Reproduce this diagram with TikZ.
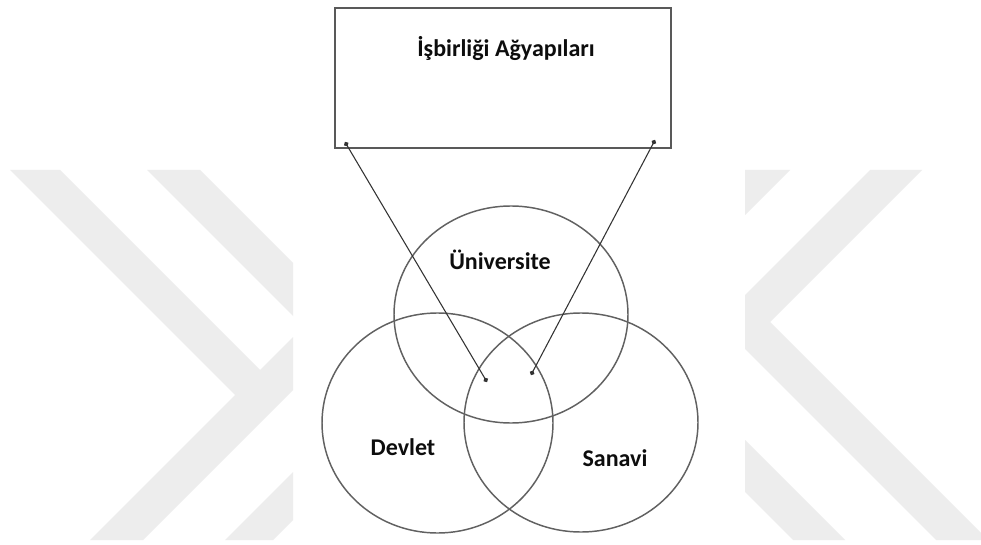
\documentclass[tikz,border=0pt]{standalone}
\usepackage{fontspec}
\setmainfont{Carlito}
\usetikzlibrary{shapes.geometric,arrows.meta}

\tikzset{
  wm/.style={fill=black!7, draw=none},
  venn/.style={ellipse, draw=black!62, line width=1.1pt, inner sep=0pt, outer sep=0pt},
  framebox/.style={rectangle, draw=black!65, line width=1pt, inner sep=0pt, outer sep=0pt},
  label/.style={anchor=base, inner sep=0pt, text=black!95,
                font=\bfseries\fontsize{18}{21}\selectfont},
  link/.style={draw=black!80, line width=0.8pt,
               {Circle[length=3.6pt]}-{Circle[length=3.6pt]}},
}

\begin{document}
\begin{tikzpicture}[x=0.75pt, y=-0.75pt]
  % canvas
  \fill[white] (0,0) rectangle (981,545);
  \useasboundingbox (0,0) rectangle (981,545);

  % background emblem bands, left side
  \fill[wm] (10,170) -- (60,170) -- (275,385) -- (250,410) -- cycle;
  \fill[wm] (90,540) -- (143,540) -- (293,390) -- (293,337) -- cycle;
  \fill[wm] (147,170) -- (200,170) -- (293,263) -- (293,316) -- cycle;
  \fill[wm] (225,540) -- (273,540) -- (293,520) -- (293,472) -- cycle;

  % background emblem bands, right side
  \fill[wm] (745,170) -- (790,170) -- (745,215) -- cycle;
  \fill[wm] (870,170) -- (922,170) -- (770,322) -- (981,533) -- (981,540)
            -- (936,540) -- (745,349) -- (745,295) -- cycle;
  \fill[wm] (745,440) -- (745,492) -- (793,540) -- (845,540) -- cycle;

  % network box
  \node[framebox, minimum width=252pt, minimum height=105pt] (box) at (503,78) {};
  \node[label] (title) at (506,57) {İşbirliği Ağyapıları};

  % three overlapping sets
  \node[venn, minimum width=175.5pt, minimum height=162.75pt] (uni) at (511,314.5) {};
  \node[venn, minimum width=173.25pt, minimum height=165pt] (dev) at (437.5,423) {};
  \node[venn, minimum width=175.5pt, minimum height=164.25pt] (san) at (581,422.5) {};

  \node[label] (unilabel) at (500,270) {Üniversite};
  \node[label] (devlabel) at (403,455) {Devlet};
  \node[label] (sanlabel) at (615,466) {Sanavi};

  % links from the box into the common intersection
  \coordinate (lt) at (345,142);
  \coordinate (lb) at (487,382);
  \coordinate (rt) at (655,140);
  \coordinate (rb) at (531,375);
  \draw[link] (lt) -- (lb);
  \draw[link] (rt) -- (rb);
\end{tikzpicture}
\end{document}
